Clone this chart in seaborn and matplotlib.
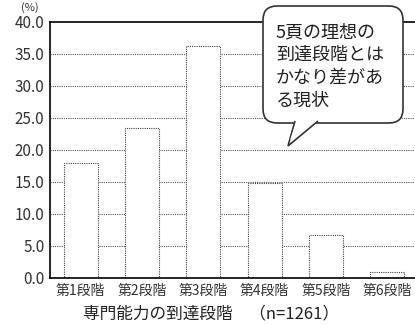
import matplotlib
matplotlib.use("Agg")
import matplotlib.pyplot as plt
import seaborn as sns
import pandas as pd
from matplotlib.patches import FancyBboxPatch, Polygon

categories = ["第1段階", "第2段階", "第3段階", "第4段階", "第5段階", "第6段階"]
values = [17.9, 23.5, 36.3, 14.9, 6.7, 1.0]
yticks = [0, 5, 10, 15, 20, 25, 30, 35, 40]
ytick_labels = ["0.0", "5.0", "10.0", "15.0", "20.0", "25.0", "30.0", "35.0", "40.0"]
xlabel = "専門能力の到達段階　（n=1261）"
unit_label = "(%)"
bubble_lines = ["5頁の理想の", "到達段階とは", "かなり差があ", "る現状"]

sns.set_theme(style="white")
plt.rcParams["font.family"] = ["Noto Sans CJK JP", "DejaVu Sans"]

W, H = 415, 325
fig = plt.figure(figsize=(W / 100, H / 100), dpi=100)
ax = fig.add_axes([50 / W, 47 / H, 368 / W, 256 / H])

df = pd.DataFrame({"cat": categories, "val": values})
for y in yticks[1:-1]:
    ax.axhline(y, color="#555555", lw=0.8, ls=(0, (1, 1)), zorder=0)
sns.barplot(data=df, x="cat", y="val", color="white", width=0.55,
            edgecolor="#444444", linewidth=0.8, ax=ax, zorder=2)
for p in ax.patches:
    p.set_linestyle((0, (1, 1)))

ax.set_xlim(-0.5, 5.5)
ax.set_ylim(0, 40)
ax.set_yticks(yticks)
ax.set_yticklabels(ytick_labels, fontsize=11, color="#333333")
ax.set_xticks(range(len(categories)))
ax.set_xticklabels(categories, fontsize=10, color="#333333")
ax.set_xticks([i + 0.5 for i in range(len(categories) - 1)], minor=True)
ax.tick_params(axis="x", which="major", length=0, pad=4)
ax.tick_params(axis="x", which="minor", direction="in", length=4, width=1, color="black")
ax.tick_params(axis="y", length=0, pad=4)
ax.set_xlabel("")
ax.set_ylabel("")
for s in ["left", "bottom", "top"]:
    ax.spines[s].set_color("black")
    ax.spines[s].set_linewidth(1.2)
ax.spines["right"].set_visible(False)

fig.text(30 / W, 1 - 8 / H, unit_label, fontsize=8, ha="center", va="center", color="#333333")
fig.text(211 / W, 1 - 314 / H, xlabel, fontsize=12, ha="center", va="center", color="#222222")

# speech bubble in inches
tr = fig.dpi_scale_trans
def P(x, y):
    return (x / 100, (H - y) / 100)
x0, y0 = P(263, 123)
x1, y1 = P(403, 6)
box = FancyBboxPatch((x0 + 0.12, y0 + 0.12), (x1 - x0) - 0.24, (y1 - y0) - 0.24,
                     boxstyle="round,pad=0.12,rounding_size=0.14",
                     transform=tr, facecolor="white", edgecolor="#333333",
                     linewidth=1.2, zorder=5)
fig.patches.append(box)
tail = Polygon([P(295, 121), P(288, 146), P(318, 121)], closed=False,
               transform=tr, facecolor="white", edgecolor="#333333", linewidth=1.2, zorder=6)
fig.patches.append(tail)
cover = Polygon([P(296.5, 121.5), P(290, 140), P(315.5, 121.5)], closed=True,
                transform=tr, facecolor="white", edgecolor="none", zorder=7)
fig.patches.append(cover)
for i, line in enumerate(bubble_lines):
    fig.text(276 / W, 1 - (32 + i * 23) / H, line, fontsize=13, ha="left", va="center",
             color="#222222", zorder=8)

fig.savefig("out.png", dpi=100)
